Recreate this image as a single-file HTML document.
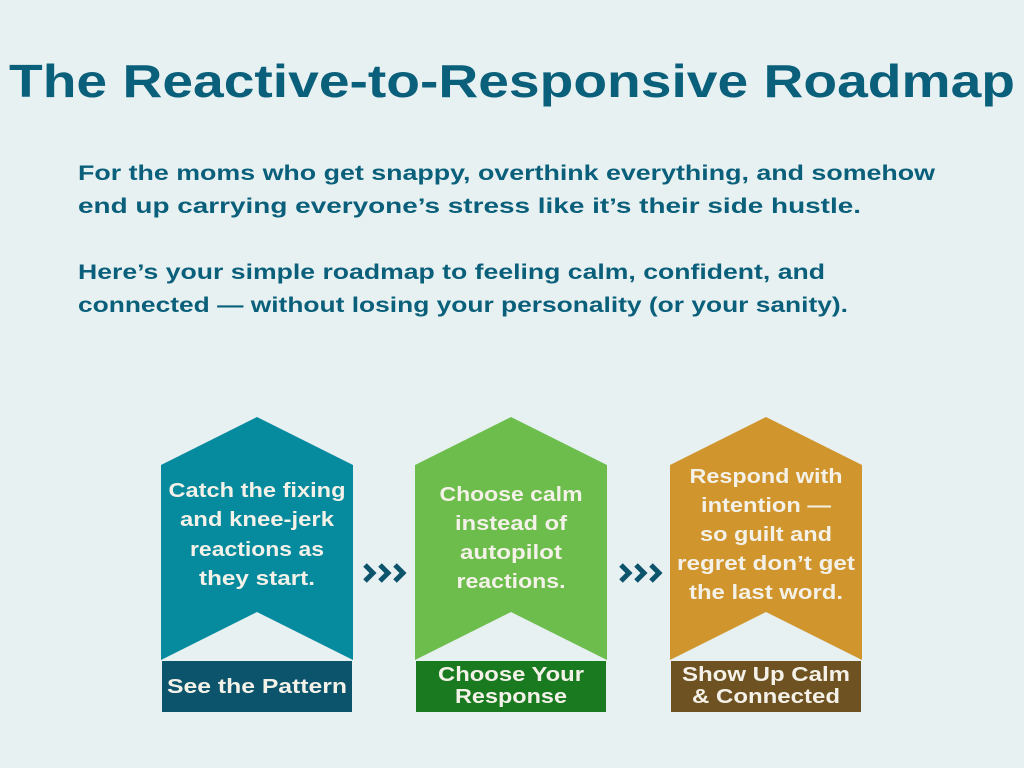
<!DOCTYPE html>
<html><head><meta charset="utf-8"><style>
html,body{margin:0;padding:0;background:#e8f1f2;}
svg{display:block;}
text{font-family:"Liberation Sans",sans-serif;font-weight:bold;}
</style></head><body>
<svg width="1024" height="768" viewBox="0 0 1024 768" xmlns="http://www.w3.org/2000/svg">
<rect width="1024" height="768" fill="#e8f1f2"/>
<text x="512" y="97" text-anchor="middle" font-size="46" fill="#0a5f7a" textLength="1006" lengthAdjust="spacingAndGlyphs">The Reactive-to-Responsive Roadmap</text>
<g font-size="21" fill="#0a5f7a">
<text x="78" y="180" textLength="857" lengthAdjust="spacingAndGlyphs">For the moms who get snappy, overthink everything, and somehow</text>
<text x="78" y="213" textLength="783" lengthAdjust="spacingAndGlyphs">end up carrying everyone’s stress like it’s their side hustle.</text>
<text x="78" y="279" textLength="747" lengthAdjust="spacingAndGlyphs">Here’s your simple roadmap to feeling calm, confident, and</text>
<text x="78" y="312" textLength="770" lengthAdjust="spacingAndGlyphs">connected — without losing your personality (or your sanity).</text>
</g>
<!-- shape 1 -->
<polygon points="161,465 257,417 353,465 353,660 257,612 161,660" fill="#068a9e"/>
<rect x="162" y="661" width="190" height="51" fill="#0b546b"/>
<g font-size="20" fill="#f4f1e8" text-anchor="middle">
<text x="257" y="497" textLength="177" lengthAdjust="spacingAndGlyphs">Catch the fixing</text>
<text x="257" y="526" textLength="154" lengthAdjust="spacingAndGlyphs">and knee-jerk</text>
<text x="257" y="556" textLength="134" lengthAdjust="spacingAndGlyphs">reactions as</text>
<text x="257" y="585" textLength="116" lengthAdjust="spacingAndGlyphs">they start.</text>
</g>
<text x="257" y="693" font-size="20" fill="#f4f1e8" text-anchor="middle" textLength="180" lengthAdjust="spacingAndGlyphs">See the Pattern</text>
<!-- shape 2 -->
<polygon points="415,465 511,417 607,465 607,660 511,612 415,660" fill="#6cbd4c"/>
<rect x="416" y="661" width="190" height="51" fill="#197a20"/>
<g font-size="20" fill="#f4f1e8" text-anchor="middle">
<text x="511" y="501" textLength="143" lengthAdjust="spacingAndGlyphs">Choose calm</text>
<text x="511" y="530" textLength="112" lengthAdjust="spacingAndGlyphs">instead of</text>
<text x="511" y="559" textLength="102" lengthAdjust="spacingAndGlyphs">autopilot</text>
<text x="511" y="588" textLength="109" lengthAdjust="spacingAndGlyphs">reactions.</text>
</g>
<g font-size="20" fill="#f4f1e8" text-anchor="middle">
<text x="511" y="681" textLength="146" lengthAdjust="spacingAndGlyphs">Choose Your</text>
<text x="511" y="703" textLength="112" lengthAdjust="spacingAndGlyphs">Response</text>
</g>
<!-- shape 3 -->
<polygon points="670,465 766,417 862,465 862,660 766,612 670,660" fill="#d0952d"/>
<rect x="671" y="661" width="190" height="51" fill="#6e5222"/>
<g font-size="20" fill="#f4f1e8" text-anchor="middle">
<text x="766" y="483" textLength="153" lengthAdjust="spacingAndGlyphs">Respond with</text>
<text x="766" y="512" textLength="130" lengthAdjust="spacingAndGlyphs">intention —</text>
<text x="766" y="541" textLength="132" lengthAdjust="spacingAndGlyphs">so guilt and</text>
<text x="766" y="570" textLength="178" lengthAdjust="spacingAndGlyphs">regret don’t get</text>
<text x="766" y="599" textLength="154" lengthAdjust="spacingAndGlyphs">the last word.</text>
</g>
<g font-size="20" fill="#f4f1e8" text-anchor="middle">
<text x="766" y="681" textLength="168" lengthAdjust="spacingAndGlyphs">Show Up Calm</text>
<text x="766" y="703" textLength="148" lengthAdjust="spacingAndGlyphs">&amp; Connected</text>
</g>
<!-- chevrons -->
<g fill="none" stroke="#0b546b" stroke-width="5" stroke-linejoin="miter">
<polyline points="365,565 373,573 365,581"/>
<polyline points="380,565 388,573 380,581"/>
<polyline points="395,565 403,573 395,581"/>
<polyline points="621,565 629,573 621,581"/>
<polyline points="636,565 644,573 636,581"/>
<polyline points="651,565 659,573 651,581"/>
</g>
</svg>
</body></html>
